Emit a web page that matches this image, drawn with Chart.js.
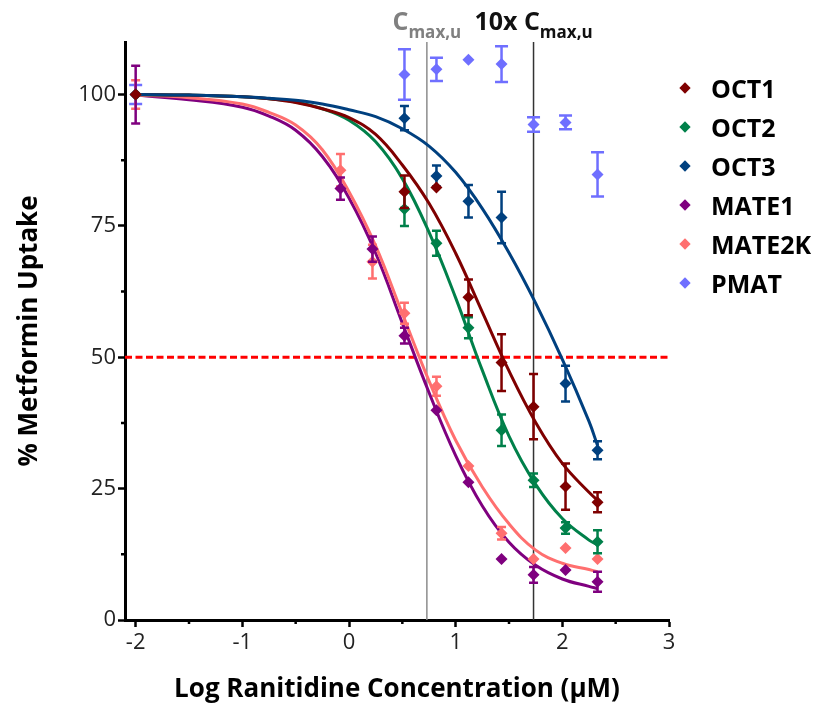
<!DOCTYPE html>
<html>
<head>
<meta charset="utf-8">
<title>Ranitidine inhibition of metformin uptake</title>
<script src="https://cdn.jsdelivr.net/npm/chart.js@4.4.1/dist/chart.umd.min.js"></script>
<style>
  html, body { margin: 0; padding: 0; background: #fff; }
  #wrap { position: relative; width: 830px; height: 713px; }
  #legend { position: absolute; left: 678px; top: 68px; margin: 0; padding: 0; list-style: none;
            font: bold 25px "Open Sans", sans-serif; color: #000; }
  #legend li { height: 39px; display: flex; align-items: center; }
  #legend .mk { width: 8px; height: 8px; transform: rotate(45deg); margin: 0 22px 0 3px; }
</style>
</head>
<body>
<div id="wrap">
  <canvas id="chart" width="830" height="713"></canvas>
  <ul id="legend"></ul>
</div>
<script>
// DATA
const seriesNames = ["OCT1", "OCT2", "OCT3", "MATE1", "MATE2K", "PMAT"];
const seriesColors = ["#7f0000", "#00804a", "#00407f", "#7f007f", "#ff6f6f", "#6f6fff"];

const oct1X = [-2, 0.52, 0.82, 1.12, 1.43, 1.73, 2.03, 2.33];
const oct1Y = [100, 81.5, 82.3, 61.4, 49.0, 40.6, 25.4, 22.4];
const oct1Err = [0, 3.1, 0, 3.4, 5.4, 6.2, 4.4, 1.9];

const oct2X = [-2, 0.52, 0.82, 1.12, 1.43, 1.73, 2.03, 2.33];
const oct2Y = [100, 78.2, 71.7, 55.6, 36.1, 26.6, 17.5, 14.9];
const oct2Err = [0, 3.2, 2.4, 2.0, 3.0, 1.3, 1.1, 2.2];

const oct3X = [-2, 0.52, 0.82, 1.12, 1.43, 2.03, 2.33];
const oct3Y = [100, 95.5, 84.5, 79.7, 76.6, 45.0, 32.3];
const oct3Err = [0, 2.3, 2.0, 3.1, 4.9, 3.4, 1.7];

const mate1X = [-2, -0.08, 0.22, 0.52, 0.82, 1.12, 1.43, 1.73, 2.03, 2.33];
const mate1Y = [100, 82.1, 70.6, 54.1, 39.9, 26.2, 11.6, 8.6, 9.5, 7.3];
const mate1Err = [5.5, 2.1, 2.4, 1.5, 0, 0, 0, 1.5, 0, 1.9];

const mate2kX = [-2, -0.08, 0.22, 0.52, 0.82, 1.12, 1.43, 1.73, 2.03, 2.33];
const mate2kY = [100, 85.6, 68.2, 58.4, 44.5, 29.3, 16.5, 11.6, 13.7, 11.6];
const mate2kErr = [2.7, 3.1, 3.2, 2.0, 1.8, 0, 1.2, 0, 0, 0];

const pmatX = [-2, 0.52, 0.82, 1.12, 1.43, 1.73, 2.03, 2.33];
const pmatY = [100, 103.8, 104.8, 106.6, 105.8, 94.3, 94.7, 84.8];
const pmatErr = [1.8, 4.8, 2.2, 0, 3.4, 1.4, 1.3, 4.2];

// fitted curves
const fitX = [-2, -1.5, -1, -0.75, -0.5, -0.25, 0, 0.25, 0.5, 0.75, 1, 1.25, 1.5, 1.75, 2, 2.25, 2.33];
const oct1Fit = [100, 99.9, 99.6, 99.2, 98.5, 97.3, 95.6, 92.4, 86.6, 79.3, 69.8, 58.6, 47.4, 37.6, 29.8, 24.3, 22.8];
const oct2Fit = [100, 99.9, 99.6, 99.2, 98.6, 97.3, 95.1, 91, 84, 73.8, 61.3, 47.5, 35, 25.8, 19.3, 15.2, 14.3];
const oct3Fit = [100, 99.9, 99.6, 99.3, 98.9, 98.2, 97.1, 95.8, 93.5, 90.2, 85.2, 78.3, 69.9, 60.3, 49.6, 37.8, 33.2];
const mate1Fit = [99.9, 99.0, 97.6, 95.9, 93.2, 88.2, 80.3, 69.8, 56.5, 43.3, 31.3, 21.7, 14.8, 10.4, 7.8, 6.4, 6.0];
const mate2kFit = [99.9, 99.4, 98.2, 96.6, 94.2, 89.5, 81.5, 71.2, 58.3, 45.5, 34.2, 25.3, 18.3, 13.3, 10.8, 9.6, 9.2];

const cmaxLog = 0.73;
const cmax10Log = 1.73;
const halfLevel = 50;

const xMin = -2.1, xMax = 3, yMin = 0, yMax = 110;

// HELPERS
const pts = (xs, ys) => xs.map((x, i) => ({ x, y: ys[i] }));

function pointSet(i, xs, ys, errs) {
  return {
    type: "scatter",
    label: seriesNames[i],
    data: pts(xs, ys),
    errors: errs,
    errColor: seriesColors[i],
    capHalf: i === 5 ? 6.5 : 4.5,
    pointStyle: "rectRot",
    pointRadius: 6,
    backgroundColor: seriesColors[i],
    borderColor: seriesColors[i],
    borderWidth: 0,
    order: 0,
  };
}

function fitSet(i, ys) {
  return {
    type: "line",
    label: seriesNames[i] + " fit",
    data: pts(fitX, ys),
    borderColor: seriesColors[i],
    borderWidth: 3,
    pointRadius: 0,
    tension: 0.4,
    fill: false,
    order: 1,
  };
}

function refLine(points, color, width, dash) {
  return {
    type: "line",
    data: points,
    borderColor: color,
    borderWidth: width,
    borderDash: dash || [],
    pointRadius: 0,
    fill: false,
    order: 2,
  };
}

// error bars drawn just before each point set
const errorBars = {
  id: "errorBars",
  beforeDatasetDraw(chart, args) {
    const ds = chart.data.datasets[args.index];
    if (!ds.errors) return;
    const { ctx, scales } = chart;
    ctx.save();
    ctx.strokeStyle = ds.errColor;
    ctx.lineWidth = 2.5;
    ds.data.forEach((p, k) => {
      const e = ds.errors[k];
      if (!e) return;
      const px = scales.x.getPixelForValue(p.x);
      const top = scales.y.getPixelForValue(p.y + e);
      const bot = scales.y.getPixelForValue(p.y - e);
      ctx.beginPath();
      ctx.moveTo(px, top); ctx.lineTo(px, bot);
      ctx.moveTo(px - ds.capHalf, top); ctx.lineTo(px + ds.capHalf, top);
      ctx.moveTo(px - ds.capHalf, bot); ctx.lineTo(px + ds.capHalf, bot);
      ctx.stroke();
    });
    ctx.restore();
  },
};

// short minor ticks (unlabelled ones are hidden in the grid options)
const minorTicks = {
  id: "minorTicks",
  afterDraw(chart) {
    const { ctx, chartArea, scales } = chart;
    ctx.save();
    ctx.strokeStyle = "#000";
    ctx.lineWidth = 2.5;
    ctx.beginPath();
    scales.x.ticks.forEach((t) => {
      if (t.label !== "") return;
      const px = scales.x.getPixelForValue(t.value);
      ctx.moveTo(px, chartArea.bottom); ctx.lineTo(px, chartArea.bottom + 4);
    });
    scales.y.ticks.forEach((t) => {
      if (t.label !== "") return;
      const py = scales.y.getPixelForValue(t.value);
      ctx.moveTo(chartArea.left, py); ctx.lineTo(chartArea.left - 4, py);
    });
    ctx.stroke();
    ctx.restore();
  },
};

// C max,u labels above the chart
function drawSubLabel(ctx, cx, main, sub, color) {
  ctx.save();
  ctx.fillStyle = color;
  ctx.textBaseline = "alphabetic";
  ctx.textAlign = "left";
  ctx.font = 'bold 25px "Open Sans"';
  const w1 = ctx.measureText(main).width;
  ctx.font = 'bold 17px "Open Sans"';
  const w2 = ctx.measureText(sub).width;
  const x = cx - (w1 + w2) / 2;
  ctx.font = 'bold 25px "Open Sans"';
  ctx.fillText(main, x, 30);
  ctx.font = 'bold 17px "Open Sans"';
  ctx.fillText(sub, x + w1, 38);
  ctx.restore();
}

const cmaxLabels = {
  id: "cmaxLabels",
  afterDraw(chart) {
    const xs = chart.scales.x;
    drawSubLabel(chart.ctx, xs.getPixelForValue(cmaxLog), "C", "max,u", "#808080");
    drawSubLabel(chart.ctx, xs.getPixelForValue(cmax10Log), "10x C", "max,u", "#111");
  },
};

Chart.defaults.font.family = '"Open Sans", sans-serif';
Chart.defaults.color = "#222";

const majorTickColor = (c) => (c.tick && c.tick.label === "" ? "rgba(0,0,0,0)" : "#000");

new Chart(document.getElementById("chart"), {
  type: "scatter",
  data: {
    datasets: [
      pointSet(0, oct1X, oct1Y, oct1Err),
      pointSet(1, oct2X, oct2Y, oct2Err),
      pointSet(2, oct3X, oct3Y, oct3Err),
      pointSet(3, mate1X, mate1Y, mate1Err),
      pointSet(4, mate2kX, mate2kY, mate2kErr),
      pointSet(5, pmatX, pmatY, pmatErr),
      fitSet(2, oct3Fit),
      fitSet(0, oct1Fit),
      fitSet(1, oct2Fit),
      fitSet(4, mate2kFit),
      fitSet(3, mate1Fit),
      refLine([{ x: xMin, y: halfLevel }, { x: xMax, y: halfLevel }], "#ff0000", 3, [7, 3.5]),
      refLine([{ x: cmaxLog, y: yMin }, { x: cmaxLog, y: yMax }], "#8c8c8c", 1.5),
      refLine([{ x: cmax10Log, y: yMin }, { x: cmax10Log, y: yMax }], "#333", 1.5),
    ],
  },
  options: {
    responsive: false,
    animation: false,
    devicePixelRatio: 1,
    layout: { padding: { top: 42, right: 161, left: 0, bottom: 0 } },
    plugins: { legend: { display: false }, tooltip: { enabled: false } },
    scales: {
      x: {
        type: "linear",
        min: xMin,
        max: xMax,
        afterFit: (s) => { s.height = 93; },
        border: { display: true, color: "#000", width: 3 },
        grid: { drawOnChartArea: false, tickLength: 7, tickWidth: 2.5, tickColor: majorTickColor },
        ticks: {
          stepSize: 0.5,
          includeBounds: false,
          padding: 3,
          color: "#222",
          font: { size: 22 },
          maxRotation: 0,
          callback: (v) => (Number.isInteger(v) ? String(v) : ""),
        },
        title: {
          display: true,
          text: "Log Ranitidine Concentration (\u03bcM)",
          color: "#000",
          font: { size: 26, weight: "bold" },
          padding: { top: 0, bottom: 8 },
        },
      },
      y: {
        min: yMin,
        max: yMax,
        afterFit: (s) => { s.width = 125; },
        border: { display: true, color: "#000", width: 3 },
        grid: { drawOnChartArea: false, tickLength: 7, tickWidth: 2.5, tickColor: majorTickColor },
        ticks: {
          stepSize: 12.5,
          includeBounds: false,
          padding: 2,
          color: "#222",
          font: { size: 22 },
          callback: (v) => (v % 25 === 0 ? String(v) : ""),
        },
        title: {
          display: true,
          text: "% Metformin Uptake",
          color: "#000",
          font: { size: 26, weight: "bold" },
          padding: { top: 14, bottom: 0 },
        },
      },
    },
  },
  plugins: [errorBars, minorTicks, cmaxLabels],
});

// legend
const legendEl = document.getElementById("legend");
seriesNames.forEach((name, i) => {
  const li = document.createElement("li");
  const mk = document.createElement("span");
  mk.className = "mk";
  mk.style.background = seriesColors[i];
  li.appendChild(mk);
  li.appendChild(document.createTextNode(name));
  legendEl.appendChild(li);
});
</script>
</body>
</html>
